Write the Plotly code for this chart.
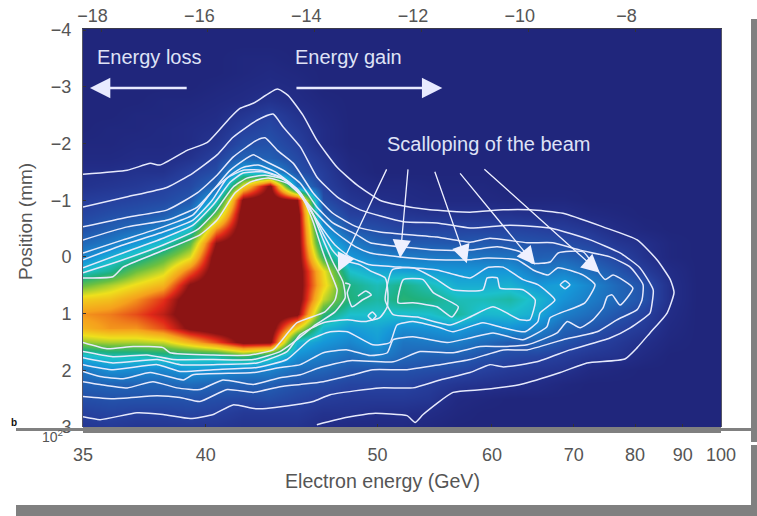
import plotly.graph_objects as go

# ---------- data ----------
energy_ticks = [35, 40, 50, 60, 70, 80, 90, 100]
top_ticks = [-18, -16, -14, -12, -10, -8]
position_ticks = [-4, -3, -2, -1, 0, 1, 2, 3]

column_u = [-18.34, -17.84, -17.34, -16.84, -16.34, -15.84, -15.34, -14.84, -14.34, -13.84, -13.34, -12.84,
            -12.34, -11.84, -11.34, -10.84, -10.34, -9.84, -9.34, -8.84, -8.34, -7.84, -7.34, -6.84, -6.34]
row_mm = [-4, -3.75, -3.5, -3.25, -3, -2.75, -2.5, -2.25, -2, -1.75, -1.5, -1.25, -1, -0.75, -0.5, -0.25,
          0, 0.25, 0.5, 0.75, 1, 1.25, 1.5, 1.75, 2, 2.25, 2.5, 2.75, 3]

# charge density per column, top row first
density_columns = [
    [1,1,1,1,1,1,1,1,2,3,5,6,9,11,14,19,26,38,54,68,76,72,58,36,22,17,13,10,7],
    [1,1,1,1,1,1,1,2,2,3,5,7,10,13,17,23,35,44,60,70,78,76,60,40,28,18,14,11,8],
    [1,1,1,1,1,1,2,2,3,4,6,8,11,14,20,30,42,55,66,76,82,76,60,40,27,18,14,10,7],
    [1,1,1,1,1,2,2,3,3,4,6,10,12,16,25,38,52,62,72,84,88,82,62,42,26,18,14,10,7],
    [1,1,1,1,1,2,3,4,4,6,10,12,15,23,38,53,64,80,93,98,98,94,72,42,30,20,14,11,7],
    [1,1,1,1,2,3,4,5,7,10,13,19,36,54,76,92,98,98,98,98,98,98,82,42,28,18,13,10,7],
    [1,1,2,2,3,4,7,10,13,18,36,66,94,98,98,98,98,98,98,98,98,98,95,50,25,17,12,8,6],
    [1,1,2,3,4,6,10,12,14,17,30,94,98,98,98,98,98,98,98,98,98,98,94,42,25,17,13,8,6],
    [1,1,1,2,3,4,6,8,10,12,14,26,92,98,98,98,98,98,98,98,94,66,36,28,20,14,11,8,6],
    [1,1,1,1,1,2,3,4,4,7,9,10,13,18,30,38,50,66,68,62,48,36,30,24,18,13,9,6,4],
    [1,1,1,1,1,1,1,1,1,2,3,5,7,10,15,24,30,38,45,46,38,31,26,20,15,11,8,6,3],
    [1,1,1,1,1,1,1,1,1,1,1,3,5,9,13,18,25,33,40,42,38,33,31,24,14,11,8,5,3],
    [1,1,1,1,1,1,1,1,1,1,1,3,4,7,11,16,24,32,45,47,37,28,22,19,14,11,8,5,3],
    [1,1,1,1,1,1,1,1,1,1,1,2,3,6,11,16,23,31,40,45,38,29,23,17,13,9,7,4,2],
    [1,1,1,1,1,1,1,1,1,1,1,2,3,6,11,15,23,30,34,40,43,31,24,17,12,7,3,2,1],
    [1,1,1,1,1,1,1,1,1,1,1,2,3,6,11,16,22,30,34,40,36,27,20,14,10,6,2,1,1],
    [1,1,1,1,1,1,1,1,1,1,1,1,2,6,11,15,22,30,35,42,37,29,16,12,8,5,1,1,1],
    [1,1,1,1,1,1,1,1,1,1,1,1,2,5,10,14,17,23,30,36,34,26,18,11,7,4,1,1,1],
    [1,1,1,1,1,1,1,1,1,1,1,1,2,5,9,13,18,25,32,29,24,18,14,9,6,2,1,1,1],
    [1,1,1,1,1,1,1,1,1,1,1,1,1,3,7,11,15,20,26,24,20,15,11,7,3,1,1,1,1],
    [1,1,1,1,1,1,1,1,1,1,1,1,1,2,4,7,11,15,19,19,15,11,8,6,2,1,1,1,1],
    [1,1,1,1,1,1,1,1,1,1,1,1,1,1,2,5,6,9,14,14,10,8,5,3,1,1,1,1,1],
    [1,1,1,1,1,1,1,1,1,1,1,1,1,1,1,2,2,4,5,5,4,3,2,1,1,1,1,1,1],
    [1,1,1,1,1,1,1,1,1,1,1,1,1,1,1,1,1,1,1,1,1,1,1,1,1,1,1,1,1],
    [1,1,1,1,1,1,1,1,1,1,1,1,1,1,1,1,1,1,1,1,1,1,1,1,1,1,1,1,1],
]

# contour lines (u = top-axis value, mm = position)
c1_u = [-18.34,-17.51,-17.08,-16.90,-16.39,-16.01,-15.58,-15.40,-15.15,-14.70,-14.50,-14.22,-13.96,-13.58,-13.21,-12.78,-12.46,-11.84,-11.09,-10.47,-9.97,-9.35,-8.60,-7.96,-7.59,-7.34,-7.27,-7.40,-7.72,-7.96,-8.19,-8.90,-9.40,-10.15,-10.85,-11.41,-11.97,-12.12,-12.27,-12.91,-13.39,-13.96]
c1_mm = [-1.46,-1.53,-1.65,-1.62,-1.88,-2.02,-2.46,-2.62,-2.71,-2.96,-2.85,-2.50,-2.06,-1.58,-1.27,-1.00,-0.92,-0.83,-0.79,-0.83,-0.83,-0.77,-0.53,-0.30,0.05,0.40,0.63,0.99,1.34,1.60,1.80,1.87,2.04,2.25,2.34,2.39,2.78,2.92,2.80,2.76,2.83,2.96]
c2_u = [-18.34,-17.51,-16.76,-16.28,-15.83,-15.53,-15.08,-14.78,-14.59,-14.27,-13.96,-13.58,-13.15,-12.34,-11.71,-11.09,-10.34,-9.59,-8.84,-8.28,-7.91,-7.66,-7.68,-7.72,-8.09,-8.47,-9.22,-9.84,-10.47,-10.72,-11.09,-11.65,-12.16,-12.78,-13.71,-14.03,-14.40,-15.08,-15.53,-15.90,-16.33,-16.84,-17.33,-18.02,-18.34]
c2_mm = [-0.88,-1.06,-1.23,-1.48,-1.80,-2.11,-2.41,-2.52,-2.29,-1.94,-1.41,-1.06,-0.83,-0.62,-0.60,-0.51,-0.56,-0.51,-0.30,-0.07,0.19,0.58,0.81,0.99,1.25,1.43,1.64,1.85,1.94,1.90,2.04,2.17,2.31,2.31,2.43,2.55,2.61,2.68,2.61,2.78,2.85,2.78,2.75,2.87,2.82]
c3_u = [-18.34,-17.51,-16.76,-16.20,-15.83,-15.53,-15.08,-14.93,-14.70,-14.40,-14.03,-13.66,-13.21,-12.78,-11.71,-11.09,-10.72,-10.02,-9.54,-9.03,-8.47,-8.09,-7.85,-7.87,-7.96,-8.34,-8.71,-9.35,-10.02,-10.47,-11.09,-11.65,-12.27,-12.91,-13.28,-13.84,-14.27,-14.65,-15.15,-15.64,-16.15,-16.52,-16.95,-17.78,-18.34]
c3_mm = [-0.53,-0.70,-0.83,-1.13,-1.44,-1.76,-2.06,-2.10,-1.88,-1.65,-1.13,-0.77,-0.53,-0.44,-0.35,-0.26,-0.33,-0.25,-0.25,-0.12,0,0.18,0.49,0.76,0.93,1.11,1.32,1.46,1.64,1.64,1.81,1.90,1.99,1.99,2.08,2.20,2.25,2.29,2.39,2.34,2.55,2.48,2.45,2.50,2.46]
c4_u = [-18.34,-17.51,-16.76,-16.20,-15.90,-15.58,-15.15,-14.97,-14.59,-14.27,-13.96,-13.66,-13.21,-12.96,-11.71,-11.09,-10.58,-10.15,-9.93,-9.59,-9.44,-8.97,-8.75,-8.56,-8.41,-8.04,-8.28,-8.43,-8.52,-8.60,-8.79,-9.03,-9.27,-9.46,-10.02,-10.47,-10.90,-11.41,-12.03,-12.53,-13.34,-13.90,-14.27,-14.65,-15.15,-15.72,-16.15,-16.58,-17.03,-17.51,-18.02,-18.34]
c4_mm = [-0.30,-0.53,-0.65,-0.88,-1.18,-1.53,-1.80,-1.71,-1.53,-1.30,-0.88,-0.60,-0.39,-0.25,-0.12,-0.12,-0.18,-0.09,0.11,0.09,-0.07,-0.09,0.18,0.40,0.32,0.55,0.85,0.67,0.70,0.90,1.11,1.25,1.14,1.34,1.55,1.58,1.58,1.69,1.67,1.85,1.83,1.95,2.08,2.13,2.25,2.17,2.34,2.31,2.20,2.31,2.25,2.20]
c5_u = [-18.34,-17.59,-16.84,-16.28,-15.90,-15.58,-15.34,-15.06,-14.74,-14.42,-14.18,-13.99,-13.62,-13.24,-12.96,-12.40,-11.71,-11.09,-10.77,-10.21,-9.91,-9.63,-9.44,-8.97,-8.75,-8.94,-9.59,-9.65,-10.10,-10.66,-11.09,-11.52,-12.16,-12.53,-12.64,-12.96,-13.39,-13.84,-14.27,-14.65,-15.15,-16.28,-16.46,-17.08,-17.59,-18.02,-18.34]
c5_mm = [-0.07,-0.30,-0.53,-0.74,-1.18,-1.44,-1.58,-1.62,-1.50,-1.27,-1.00,-0.79,-0.44,-0.18,-0.07,0,0.05,0.05,0.02,0.05,0.23,0.32,0.19,0.32,0.49,0.81,1.07,1.23,1.46,1.34,1.43,1.51,1.41,1.46,1.69,1.74,1.64,1.69,1.90,1.95,2.04,2.08,2.17,2.04,2.15,2.11,2.02]
c6_u = [-18.34,-17.59,-16.84,-16.28,-15.92,-15.64,-15.34,-15.02,-14.69,-14.37,-14.12,-13.90,-13.62,-13.34,-12.96,-12.40,-11.71,-11.09,-10.77,-10.47,-10.10,-9.82,-9.50,-9.78,-9.82,-10.06,-10.47,-10.85,-11.41,-11.65,-12.16,-12.46,-12.59,-12.91,-13.39,-13.71,-14.09,-14.52,-15.08,-15.90,-16.52,-16.95,-17.78,-18.34]
c6_mm = [0.05,-0.21,-0.44,-0.65,-1.00,-1.39,-1.53,-1.53,-1.43,-1.21,-0.88,-0.56,-0.21,0,0.14,0.18,0.23,0.37,0.19,0.18,0.40,0.49,0.76,0.99,1.14,1.32,1.25,1.16,1.32,1.25,1.14,1.20,1.51,1.55,1.32,1.32,1.46,1.81,1.95,1.99,2.02,1.90,1.99,1.90]
wrap_a_u = [-18.34,-17.59,-16.84,-16.28,-15.90,-15.58,-15.34,-14.98,-14.61,-14.31,-14.07,-13.86,-13.67,-13.49,-13.15,-12.93,-12.68,-12.63,-12.64,-12.78,-13.06,-13.39,-13.84,-14.27,-14.52,-15.08,-15.90,-16.52,-16.95,-17.78,-18.34]
wrap_a_mm = [0.19,-0.07,-0.33,-0.56,-0.92,-1.32,-1.48,-1.50,-1.39,-1.18,-0.83,-0.44,-0.12,0.05,0.14,0.26,0.37,0.62,0.88,1.07,1.14,1.11,1.16,1.37,1.67,1.87,1.90,1.90,1.81,1.87,1.78]
wrap_b_u = [-18.34,-17.59,-16.84,-16.20,-15.87,-15.53,-15.27,-14.93,-14.55,-14.27,-14.03,-13.84,-13.66,-13.47,-13.43,-13.62,-13.99,-14.33,-14.65,-15.15,-15.90,-16.65,-17.14,-17.78,-18.34]
wrap_b_mm = [0.28,0.05,-0.21,-0.48,-0.79,-1.23,-1.39,-1.44,-1.36,-1.13,-0.74,-0.30,0.09,0.44,0.72,0.97,1.20,1.46,1.67,1.81,1.81,1.81,1.73,1.76,1.67]
wrap_c_u = [-18.34,-17.78,-17.59,-16.90,-16.15,-15.83,-15.49,-15.21,-14.87,-14.52,-14.24,-14.03,-13.86,-13.71,-13.58,-13.62,-13.81,-14.33,-14.65,-14.78,-15.21,-15.90,-16.71,-16.84,-17.40,-17.89,-18.34]
wrap_c_mm = [0.37,0.35,0.18,-0.09,-0.39,-0.65,-1.13,-1.32,-1.39,-1.30,-1.06,-0.62,-0.12,0.26,0.58,0.76,0.97,1.16,1.51,1.64,1.73,1.73,1.69,1.60,1.58,1.62,1.51]
island_u = [-12.55,-12.16,-11.71,-11.41,-10.85,-10.77,-10.58,-10.53,-10.10,-9.87,-9.97,-10.15,-10.66,-11.09,-11.46,-12.08,-12.53,-12.68,-12.55]
island_mm = [0.23,0.19,0.40,0.58,0.58,0.37,0.37,0.55,0.58,0.76,1.11,1.11,0.88,1.06,1.20,1.06,1.02,0.76,0.23]
green_u = [-12.34,-11.97,-11.78,-11.31,-11.43,-11.71,-12.16,-12.44,-12.34]
green_mm = [0.40,0.40,0.63,0.88,1.06,0.88,0.81,0.81,0.40]
hook_u = [-13.43,-13.34,-13.39,-13.30,-13.11,-12.94,-13.04,-13.19]
hook_mm = [0.46,0.49,0.63,0.88,0.76,0.67,0.60,0.69]
ring_a_u = [-13.00,-12.92,-12.85,-12.92,-13.00]
ring_a_mm = [1.04,0.97,1.04,1.11,1.04]
ring_b_u = [-9.40,-9.31,-9.22,-9.31,-9.40]
ring_b_mm = [0.49,0.42,0.49,0.56,0.49]

contours = [(c1_u, c1_mm), (c2_u, c2_mm), (c3_u, c3_mm), (c4_u, c4_mm), (c5_u, c5_mm), (c6_u, c6_mm),
            (wrap_a_u, wrap_a_mm), (wrap_b_u, wrap_b_mm), (wrap_c_u, wrap_c_mm),
            (island_u, island_mm), (green_u, green_mm), (hook_u, hook_mm),
            (ring_a_u, ring_a_mm), (ring_b_u, ring_b_mm)]

# labelled arrows: tail u, tail mm, tip u, tip mm
direction_arrows = [(-16.37, -2.98, -18.21, -2.98), (-14.37, -2.98, -11.61, -2.98)]
scallop_arrows = [(-12.64, -1.57, -13.56, 0.26), (-12.25, -1.57, -12.40, 0.02), (-11.76, -1.53, -11.15, 0.11),
                  (-11.30, -1.50, -9.87, 0.14), (-10.85, -1.57, -8.66, 0.28)]
labels = [("Energy loss", -17.10, -3.52), ("Energy gain", -13.37, -3.52), ("Scalloping of the beam", -10.75, -2.0)]

# ---------- scales ----------
X_RANGE = [-18.34, -6.39]
Y_RANGE = [3.0, -4.02]
INK = "#555555"
FONT = "Liberation Sans"
LINE = "#e6e9fc"
LABEL = "#dfe2f6"


def energy_to_u(e):
    return -18.34 + (1 / 35 - 1 / e) * 643.4


colorscale = [
    [0.00, "#1f2478"], [0.04, "#222c86"], [0.10, "#26409e"], [0.20, "#1f6cbc"], [0.30, "#1697d8"],
    [0.38, "#1cc0cc"], [0.46, "#1fb07c"], [0.55, "#6cc040"], [0.65, "#eee01c"], [0.75, "#f5a01c"],
    [0.85, "#e02818"], [0.92, "#8c1414"], [1.00, "#8c1414"],
]

fig = go.Figure()
fig.add_trace(go.Heatmap(x=column_u, y=row_mm, z=density_columns, transpose=True, zmin=0, zmax=100,
                         colorscale=colorscale, zsmooth="best", showscale=False, hoverinfo="skip"))
for u, mm in contours:
    fig.add_trace(go.Scatter(x=u, y=mm, mode="lines", hoverinfo="skip", showlegend=False,
                             line=dict(color=LINE, width=1.5, shape="spline", smoothing=0.5)))
# carriers for the two extra top axes
fig.add_trace(go.Scatter(x=top_ticks, y=[0] * len(top_ticks), xaxis="x2", yaxis="y", mode="markers",
                         marker=dict(opacity=0), showlegend=False, hoverinfo="skip"))
fig.add_trace(go.Scatter(x=top_ticks, y=[0] * len(top_ticks), xaxis="x3", yaxis="y", mode="markers",
                         marker=dict(opacity=0), showlegend=False, hoverinfo="skip"))

annotations = []
for text, u, mm in labels:
    annotations.append(dict(x=u, y=mm, text=text, showarrow=False, font=dict(family=FONT, size=20, color=LABEL)))
for tu, tm, hu, hm in direction_arrows:
    annotations.append(dict(x=hu, y=hm, ax=tu, ay=tm, axref="x", ayref="y", xref="x", yref="y", text="",
                            showarrow=True, arrowhead=2, arrowsize=1.7, arrowwidth=2.4, arrowcolor="#e8eaff"))
for tu, tm, hu, hm in scallop_arrows:
    annotations.append(dict(x=hu, y=hm, ax=tu, ay=tm, axref="x", ayref="y", xref="x", yref="y", text="",
                            showarrow=True, arrowhead=2, arrowsize=2.8, arrowwidth=1.3, arrowcolor="#eef0ff"))
annotations.append(dict(xref="paper", yref="paper", x=(382 - 83) / 638, y=-(481 - 427) / 398, xanchor="center",
                        yanchor="middle", text="Electron energy (GeV)", showarrow=False,
                        font=dict(family=FONT, size=19.6, color=INK)))
annotations.append(dict(xref="paper", yref="paper", x=(25 - 83) / 638, y=(427 - 222) / 398, xanchor="center",
                        yanchor="middle", textangle=-90, text="Position (mm)", showarrow=False,
                        font=dict(family=FONT, size=19, color=INK)))
annotations.append(dict(xref="paper", yref="paper", x=(52 - 83) / 638, y=-(436 - 427) / 398, xanchor="center",
                        yanchor="middle", text="10<sup>2</sup>", showarrow=False,
                        font=dict(family=FONT, size=14, color=INK)))
annotations.append(dict(xref="paper", yref="paper", x=(14 - 83) / 638, y=-(430 - 427) / 398, xanchor="center",
                        yanchor="bottom", text="<b>b</b>", showarrow=False,
                        font=dict(family=FONT, size=10, color="#111111")))

shapes = [
    dict(type="rect", xref="paper", yref="paper", layer="above", line_width=0, fillcolor="#808080",
         x0=(83 - 83) / 638, x1=(721 - 83) / 638, y0=-(433 - 427) / 398, y1=0),
    dict(type="rect", xref="paper", yref="paper", layer="above", line_width=0, fillcolor="#808080",
         x0=(16 - 83) / 638, x1=(751 - 83) / 638, y0=-(431 - 427) / 398, y1=-(428 - 427) / 398),
    dict(type="rect", xref="paper", yref="paper", layer="above", line_width=0, fillcolor="#808080",
         x0=(751 - 83) / 638, x1=(757 - 83) / 638, y0=-(442 - 427) / 398, y1=(427 - 19) / 398),
    dict(type="rect", xref="paper", yref="paper", layer="above", line_width=0, fillcolor="#808080",
         x0=(751 - 83) / 638, x1=(757 - 83) / 638, y0=-(516 - 427) / 398, y1=-(445 - 427) / 398),
    dict(type="rect", xref="paper", yref="paper", layer="above", line_width=0, fillcolor="#808080",
         x0=(16 - 83) / 638, x1=(757 - 83) / 638, y0=-(516 - 427) / 398, y1=-(505 - 427) / 398),
]

fig.update_layout(
    width=757, height=516, autosize=False, margin=dict(l=83, r=36, t=29, b=89, autoexpand=False),
    paper_bgcolor="white", plot_bgcolor="#1f2478", showlegend=False,
    font=dict(family=FONT, size=18, color=INK),
    annotations=annotations, shapes=shapes,
    xaxis=dict(range=X_RANGE, tickmode="array", tickvals=[energy_to_u(e) for e in energy_ticks],
               ticktext=[str(e) for e in energy_ticks], ticks="inside", ticklen=3, tickcolor="#333333",
               ticklabelstandoff=15, showgrid=False, zeroline=False, showline=False, automargin=False,
               tickfont=dict(family=FONT, size=18, color=INK)),
    xaxis2=dict(overlaying="x", side="top", anchor="y", range=[X_RANGE[0] + 0.16, X_RANGE[1] + 0.16],
                tickmode="array", tickvals=top_ticks, ticktext=["\u2212" + str(-t) for t in top_ticks],
                ticks="", showgrid=False, zeroline=False, showline=False, ticklabelstandoff=2, automargin=False,
                tickfont=dict(family=FONT, size=18, color=INK)),
    xaxis3=dict(overlaying="x", side="top", anchor="y", range=X_RANGE, tickmode="array", tickvals=top_ticks,
                ticks="inside", ticklen=3, tickcolor="#333333", showticklabels=False, showgrid=False,
                zeroline=False, showline=True, linecolor="#3a3a4a", linewidth=1, automargin=False),
    yaxis=dict(range=Y_RANGE, tickmode="array", tickvals=position_ticks,
               ticktext=[("\u2212" + str(-t)) if t < 0 else str(t) for t in position_ticks],
               ticks="inside", ticklen=3, tickcolor="#333333", showgrid=False, zeroline=False, automargin=False,
               showline=True, linecolor="#555566", linewidth=1, mirror=True, ticklabelstandoff=7,
               tickfont=dict(family=FONT, size=18, color=INK)),
)

fig.write_html("out.html", post_script="document.body.style.margin='0';", config=dict(displayModeBar=False))
